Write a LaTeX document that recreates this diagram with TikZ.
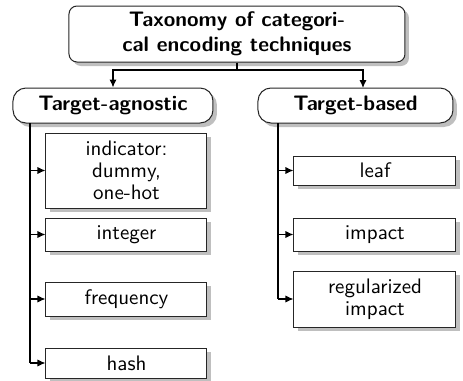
\documentclass[tikz,border=0pt]{standalone}
\usetikzlibrary{shadows,arrows.meta,shapes.misc}
\begin{document}
\begin{tikzpicture}[x=0.5pt,y=-0.5pt,
  font=\sffamily\fontsize{10.5}{11}\selectfont,
  shad/.style={drop shadow={shadow xshift=2pt,shadow yshift=-2pt,fill=black!25,opacity=1}},
  topbox/.style={draw=black!85,line width=0.5pt,fill=white,rounded corners=4pt,shad,align=center,
     font=\sffamily\bfseries\fontsize{10.5}{12.5}\selectfont,inner sep=0pt},
  catbox/.style={draw=black!85,line width=0.5pt,fill=white,rounded corners=6.5pt,shad,align=center,
     font=\sffamily\bfseries\fontsize{10.5}{12.5}\selectfont,inner sep=0pt},
  leafbox/.style={draw=black!85,line width=0.5pt,fill=white,shad,align=center,inner sep=0pt},
  conn/.style={line width=0.6pt,draw=black},
  arr/.style={conn,-{Latex[length=4pt,width=3.6pt]}}
  ]
\useasboundingbox (0,0) rectangle (463,381);
\node[topbox,minimum width=168pt,minimum height=28pt] (top) at (237,34) {Taxonomy of categori-\\cal encoding techniques};
\node[catbox,minimum width=100pt,minimum height=17.5pt] (ta) at (113,105.5) {Target-agnostic};
\node[catbox,minimum width=97.5pt,minimum height=17.5pt] (tb) at (355.5,105.5) {Target-based};
\node[leafbox,minimum width=80.5pt,minimum height=37.5pt] (ind) at (126.5,170.5) {indicator:\\dummy,\\one-hot};
\node[leafbox,minimum width=80.5pt,minimum height=16.5pt] (int) at (126.5,234.5) {integer};
\node[leafbox,minimum width=80.5pt,minimum height=17pt] (freq) at (126.5,299) {frequency};
\node[leafbox,minimum width=80.5pt,minimum height=15pt] (hash) at (126.5,363) {hash};
\node[leafbox,minimum width=81pt,minimum height=14.5pt] (leaf) at (375,170.5) {leaf};
\node[leafbox,minimum width=81pt,minimum height=16.5pt] (imp) at (375,234.5) {impact};
\node[leafbox,minimum width=81pt,minimum height=28pt] (reg) at (375,299) {regularized\\impact};
\coordinate (split) at (237,70);
\coordinate (tbin) at (363,88);
\coordinate (tav) at (30,123);
\coordinate (tbv) at (278,123);
\draw[conn] (top.south) -- (split);
\draw[arr] (split) -| (ta.north);
\draw[arr] (split) -| (tbin);
\draw[conn] (tav) -- (tav |- hash.west);
\draw[arr] (tav |- ind.west) -- (ind.west);
\draw[arr] (tav |- int.west) -- (int.west);
\draw[arr] (tav |- freq.west) -- (freq.west);
\draw[arr] (tav |- hash.west) -- (hash.west);
\draw[conn] (tbv) -- (tbv |- reg.west);
\draw[arr] (tbv |- leaf.west) -- (leaf.west);
\draw[arr] (tbv |- imp.west) -- (imp.west);
\draw[arr] (tbv |- reg.west) -- (reg.west);
\end{tikzpicture}
\end{document}
